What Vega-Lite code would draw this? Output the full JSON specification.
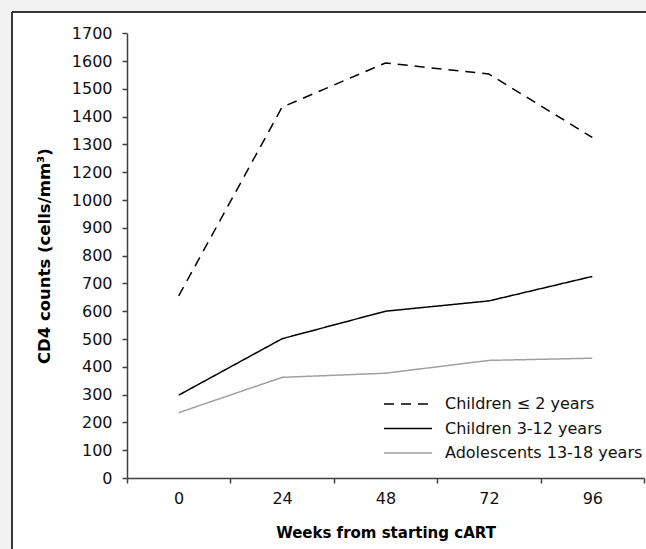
{
  "$schema": "https://vega.github.io/schema/vega-lite/v6.json",
  "width": 634,
  "height": 537,
  "autosize": {"type": "none"},
  "padding": {"left": 12, "top": 12, "right": 0, "bottom": 0},
  "background": "#f2f2f2",
  "view": {"fill": "white", "stroke": "#383838", "strokeWidth": 2, "strokeDash": [634, 1171, 537, 0]},
  "data": {
    "values": [
      {"week": 0, "cd4": 655, "group": "Children ≤ 2 years"},
      {"week": 24, "cd4": 1434, "group": "Children ≤ 2 years"},
      {"week": 48, "cd4": 1593, "group": "Children ≤ 2 years"},
      {"week": 72, "cd4": 1553, "group": "Children ≤ 2 years"},
      {"week": 96, "cd4": 1325, "group": "Children ≤ 2 years"},
      {"week": 0, "cd4": 298, "group": "Children 3-12 years"},
      {"week": 24, "cd4": 501, "group": "Children 3-12 years"},
      {"week": 48, "cd4": 600, "group": "Children 3-12 years"},
      {"week": 72, "cd4": 637, "group": "Children 3-12 years"},
      {"week": 96, "cd4": 725, "group": "Children 3-12 years"},
      {"week": 0, "cd4": 235, "group": "Adolescents 13-18 years"},
      {"week": 24, "cd4": 362, "group": "Adolescents 13-18 years"},
      {"week": 48, "cd4": 377, "group": "Adolescents 13-18 years"},
      {"week": 72, "cd4": 423, "group": "Adolescents 13-18 years"},
      {"week": 96, "cd4": 431, "group": "Adolescents 13-18 years"}
    ]
  },
  "mark": {"type": "line", "strokeWidth": 1.5},
  "encoding": {
    "x": {
      "field": "week",
      "type": "ordinal",
      "bandPosition": 0.5,
      "scale": {"type": "band", "domain": [0, 24, 48, 72, 96], "range": [115, 632], "paddingInner": 0, "paddingOuter": 0},
      "axis": {
        "title": "Weeks from starting cART",
        "orient": "bottom",
        "offset": -71,
        "labelAngle": 0,
        "tickBand": "extent",
        "tickSize": 5,
        "labelPadding": 7,
        "titlePadding": 19
      }
    },
    "y": {
      "field": "cd4",
      "type": "quantitative",
      "scale": {"domain": [0, 1000, 1200, 1700], "range": [466, 188, 160.2, 21.2], "nice": false, "zero": false},
      "axis": {
        "title": "CD4 counts (cells/mm³)",
        "orient": "left",
        "offset": -115,
        "format": "d",
        "values": [0, 100, 200, 300, 400, 500, 600, 700, 800, 900, 1000, 1200, 1300, 1400, 1500, 1600, 1700],
        "tickSize": 5,
        "labelPadding": 10,
        "titlePadding": 19,
        "titleFontSize": 16.5,
        "grid": false
      }
    },
    "color": {
      "field": "group",
      "type": "nominal",
      "scale": {"domain": ["Children ≤ 2 years", "Children 3-12 years", "Adolescents 13-18 years"], "range": ["#000000", "#000000", "#a0a0a0"]},
      "legend": {"title": null}
    },
    "strokeDash": {
      "field": "group",
      "type": "nominal",
      "scale": {"domain": ["Children ≤ 2 years", "Children 3-12 years", "Adolescents 13-18 years"], "range": [[10, 7], [1, 0], [1, 0]]},
      "legend": {"title": null}
    }
  },
  "config": {
    "font": "DejaVu Sans",
    "axis": {
      "domainColor": "#404040",
      "domainWidth": 1.5,
      "tickColor": "#404040",
      "tickWidth": 1.5,
      "labelFont": "DejaVu Sans",
      "labelFontSize": 16,
      "labelColor": "#111111",
      "titleFont": "DejaVu Sans",
      "titleFontWeight": "bold",
      "titleFontSize": 15,
      "titleColor": "#000000",
      "grid": false
    },
    "legend": {
      "orient": "none",
      "legendX": 383,
      "legendY": 379,
      "padding": 0,
      "symbolType": "M-2,0L2,0",
      "symbolSize": 576,
      "symbolStrokeWidth": 1.5,
      "labelOffset": 24,
      "rowPadding": 3.5,
      "labelFont": "DejaVu Sans",
      "labelFontSize": 16,
      "labelColor": "#111111",
      "labelLimit": 300
    }
  }
}
